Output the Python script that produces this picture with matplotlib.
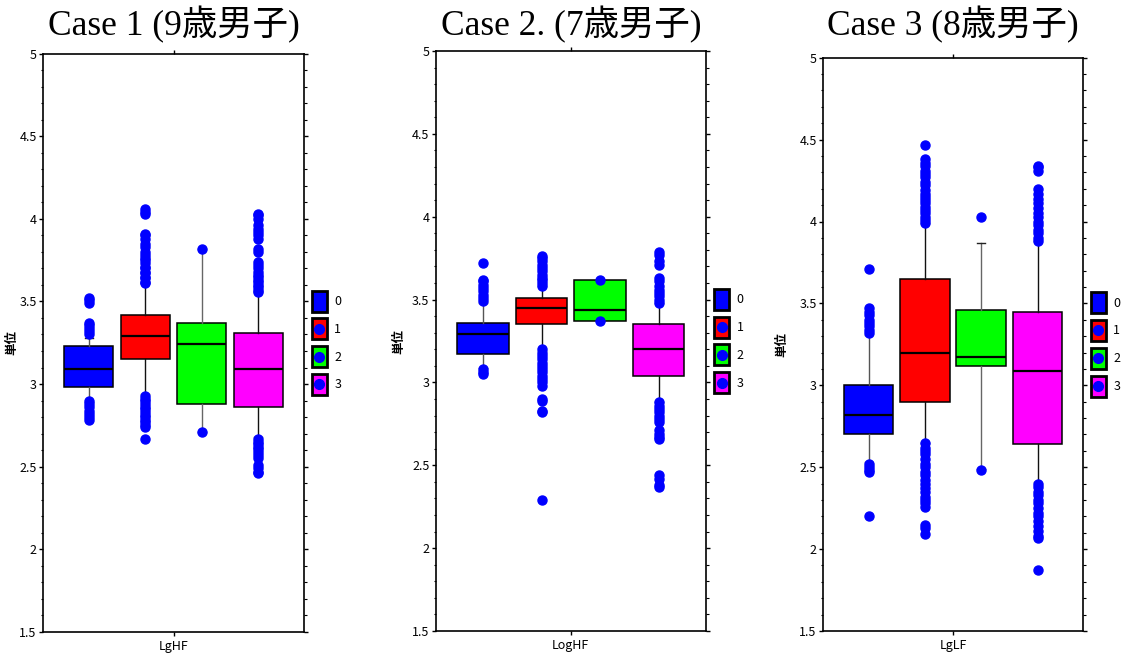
import matplotlib
matplotlib.use('Agg')
import matplotlib.pyplot as plt
from matplotlib.patches import Patch
from matplotlib.lines import Line2D
from matplotlib.legend_handler import HandlerPatch
from matplotlib.ticker import MultipleLocator

plt.rcParams['font.family'] = ['Noto Sans CJK JP', 'DejaVu Sans']

titles = ['Case 1 (9歳男子)', 'Case 2. (7歳男子)', 'Case 3 (8歳男子)']
xlabels = ['LgHF', 'LogHF', 'LgLF']
groups = ['0', '1', '2', '3']
colors = ['#0000ff', '#ff0000', '#00ff00', '#ff00ff']

# Case 1 box statistics (one value per group 0..3)
c1_q1 = [2.98, 3.15, 2.88, 2.86]
c1_med = [3.09, 3.29, 3.24, 3.09]
c1_q3 = [3.23, 3.42, 3.37, 3.31]
c1_lo = [2.89, 2.94, 2.71, 2.68]
c1_hi = [3.28, 3.61, 3.82, 3.56]
c1_out = [
    [3.30, 3.32, 3.34, 3.36, 3.37, 3.49, 3.51, 3.52,
     2.90, 2.88, 2.86, 2.84, 2.82, 2.80, 2.78],
    [3.61, 3.62, 3.64, 3.65, 3.67, 3.68, 3.70, 3.71, 3.73, 3.75, 3.76, 3.78,
     3.80, 3.83, 3.85, 3.88, 3.90, 3.91, 4.03, 4.04, 4.06,
     2.93, 2.91, 2.90, 2.88, 2.86, 2.85, 2.83, 2.81, 2.80, 2.78, 2.77, 2.75,
     2.74, 2.67],
    [3.82, 2.71],
    [3.56, 3.57, 3.59, 3.60, 3.62, 3.63, 3.65, 3.66, 3.68, 3.70, 3.72, 3.74,
     3.80, 3.82, 3.88, 3.90, 3.92, 3.94, 3.96, 4.00, 4.02, 4.03,
     2.67, 2.65, 2.64, 2.62, 2.61, 2.59, 2.57, 2.55, 2.51, 2.49, 2.47, 2.46],
]

# Case 2
c2_q1 = [3.17, 3.35, 3.37, 3.04]
c2_med = [3.29, 3.45, 3.44, 3.20]
c2_q3 = [3.36, 3.51, 3.62, 3.35]
c2_lo = [3.09, 3.19, 3.37, 2.88]
c2_hi = [3.48, 3.58, 3.62, 3.48]
c2_out = [
    [3.49, 3.51, 3.53, 3.55, 3.57, 3.59, 3.61, 3.62, 3.72,
     3.08, 3.06, 3.05],
    [3.58, 3.60, 3.62, 3.63, 3.65, 3.67, 3.69, 3.71, 3.73, 3.75, 3.76,
     3.20, 3.18, 3.16, 3.14, 3.12, 3.10, 3.08, 3.06, 3.04, 3.02, 3.00, 2.98,
     2.90, 2.89, 2.83, 2.82, 2.29],
    [3.62, 3.37],
    [3.48, 3.50, 3.52, 3.54, 3.56, 3.58, 3.61, 3.63, 3.71, 3.73, 3.77, 3.79,
     2.88, 2.86, 2.84, 2.82, 2.80, 2.78, 2.76, 2.71, 2.69, 2.67, 2.66,
     2.44, 2.42, 2.38, 2.37],
]

# Case 3
c3_q1 = [2.70, 2.90, 3.12, 2.64]
c3_med = [2.82, 3.20, 3.17, 3.09]
c3_q3 = [3.00, 3.65, 3.46, 3.45]
c3_lo = [2.53, 2.65, 2.49, 2.41]
c3_hi = [3.31, 3.99, 3.87, 3.88]
c3_out = [
    [3.32, 3.34, 3.36, 3.38, 3.40, 3.43, 3.45, 3.47, 3.71,
     2.52, 2.50, 2.48, 2.47, 2.20],
    [3.99, 4.01, 4.03, 4.05, 4.07, 4.09, 4.11, 4.13, 4.15, 4.17, 4.19, 4.22,
     4.24, 4.27, 4.29, 4.31, 4.34, 4.36, 4.38, 4.47,
     2.65, 2.62, 2.60, 2.58, 2.55, 2.52, 2.50, 2.47, 2.45, 2.42, 2.40, 2.37,
     2.35, 2.32, 2.30, 2.28, 2.26, 2.15, 2.13, 2.09],
    [4.03, 2.48],
    [3.88, 3.90, 3.93, 3.95, 3.98, 4.00, 4.03, 4.05, 4.08, 4.11, 4.14, 4.17,
     4.20, 4.31, 4.33, 4.34,
     2.40, 2.38, 2.35, 2.33, 2.30, 2.28, 2.25, 2.22, 2.20, 2.17, 2.14, 2.11,
     2.08, 2.07, 1.87],
]

cases = [
    (c1_q1, c1_med, c1_q3, c1_lo, c1_hi, c1_out),
    (c2_q1, c2_med, c2_q3, c2_lo, c2_hi, c2_out),
    (c3_q1, c3_med, c3_q3, c3_lo, c3_hi, c3_out),
]

offsets = [-0.325, -0.108, 0.108, 0.325]
whisk_col = ['#555555', '#111111', '#666666', '#111111']


class HandlerBoxDot(HandlerPatch):
    # coloured box with the blue outlier dot in its middle
    def create_artists(self, legend, orig_handle, xdescent, ydescent,
                       width, height, fontsize, trans):
        arts = super().create_artists(legend, orig_handle, xdescent, ydescent,
                                      width, height, fontsize, trans)
        dot = Line2D([width / 2 - xdescent], [height / 2 - ydescent],
                     marker='o', linestyle='', color='#0000ff', markersize=7)
        dot.set_transform(trans)
        return arts + [dot]


W, H = 1143, 661
fig = plt.figure(figsize=(W / 100, H / 100), dpi=100)

# axes boxes in pixels: left, right, top, bottom
boxes = [(43, 304, 53.5, 632), (435.7, 706, 51, 631), (823, 1083, 57.7, 631)]
ylab_x = [-0.096, -0.114, -0.135]

for k, (q1, med, q3, lo, hi, out) in enumerate(cases):
    l, r, t, b = boxes[k]
    ax = fig.add_axes([l / W, 1 - b / H, (r - l) / W, (b - t) / H])
    for i in range(4):
        st = dict(q1=q1[i], med=med[i], q3=q3[i], whislo=lo[i], whishi=hi[i],
                  fliers=out[i], label=groups[i])
        ax.bxp([st], positions=[offsets[i]], widths=0.19, capwidths=0.03,
               patch_artist=True, manage_ticks=False,
               boxprops=dict(facecolor=colors[i], edgecolor='black', linewidth=1.1),
               medianprops=dict(color='black', linewidth=1.6),
               whiskerprops=dict(color=whisk_col[i], linewidth=1.0),
               capprops=dict(color='#222222', linewidth=1.0),
               flierprops=dict(marker='o', markerfacecolor='#0000ff',
                               markeredgecolor='#0000ff', markersize=6.5,
                               linestyle='none'))
    ax.set_xlim(-0.5, 0.5)
    ax.set_ylim(1.5, 5)
    ax.set_xticks([0])
    ax.set_xticklabels([xlabels[k]], fontsize=9)
    ax.yaxis.set_major_locator(MultipleLocator(0.5))
    ax.yaxis.set_minor_locator(MultipleLocator(0.1))
    ax.set_yticks([1.5, 2, 2.5, 3, 3.5, 4, 4.5, 5])
    ax.set_yticklabels(['1.5', '2', '2.5', '3', '3.5', '4', '4.5', '5'], fontsize=9)
    ax.tick_params(axis='y', which='major', length=3, width=1, right=True, pad=1.5)
    ax.tick_params(axis='y', which='minor', length=1.8, width=0.8, right=True)
    ax.tick_params(axis='x', length=3, width=1, top=True, pad=2.5)
    for sp in ax.spines.values():
        sp.set_linewidth(1.2)
    ax.set_ylabel('単位', fontsize=9, fontweight='bold')
    ax.yaxis.set_label_coords(ylab_x[k], 0.5)

    handles = [Patch(facecolor=c, edgecolor='black', linewidth=2) for c in colors]
    hmap = {h: HandlerBoxDot() for h in handles[1:]}
    ax.legend(handles, groups, handler_map=hmap,
              loc='center left', bbox_to_anchor=(1.03, 0.5), frameon=False,
              fontsize=9, handlelength=1.2, handleheight=2.2,
              handletextpad=0.6, labelspacing=0.55, borderpad=0, borderaxespad=0)

    fig.text((l + r) / 2 / W, 1 - 35 / H, titles[k], ha='center', va='baseline',
             fontsize=25.5, family=['Liberation Serif', 'Noto Sans CJK JP'])

fig.savefig('out.png', dpi=100)
